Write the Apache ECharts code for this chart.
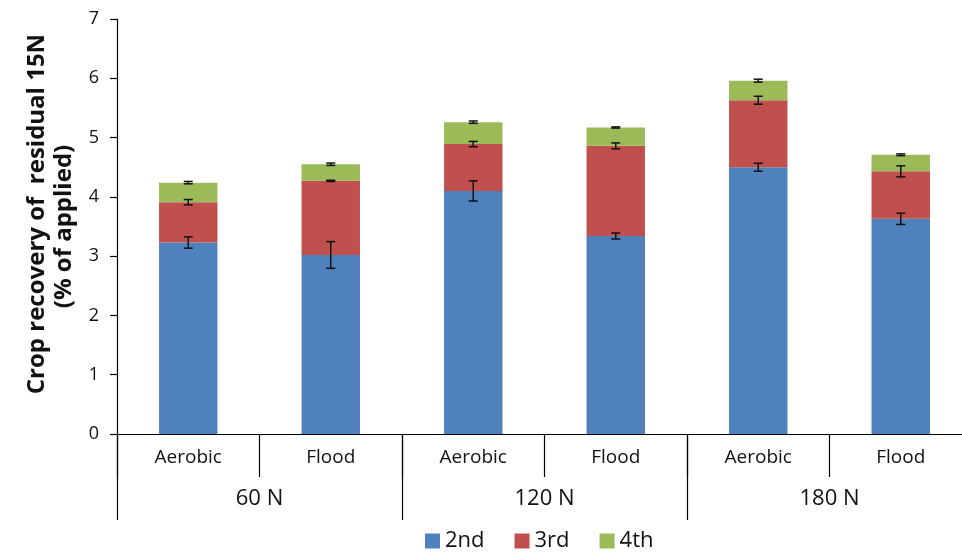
<!DOCTYPE html>
<html>
<head>
<meta charset="utf-8">
<script src="https://cdn.jsdelivr.net/npm/echarts@6/dist/echarts.min.js"></script>
<style>
  html, body { margin: 0; padding: 0; background: #fff; }
  #chart { width: 962px; height: 553px; }
</style>
</head>
<body>
<div id="chart"></div>
<script>
// Crop recovery of residual 15N by N rate and water regime
const systems = ['Aerobic', 'Flood', 'Aerobic', 'Flood', 'Aerobic', 'Flood'];
const nRates = ['60 N', '120 N', '180 N'];
const seasonNames = ['2nd', '3rd', '4th'];

const crop2nd = [3.23, 3.02, 4.10, 3.34, 4.50, 3.63];
const crop3rd = [0.68, 1.25, 0.79, 1.52, 1.13, 0.80];
const crop4th = [0.33, 0.28, 0.37, 0.31, 0.33, 0.28];

const err2nd = [0.095, 0.225, 0.17, 0.05, 0.067, 0.095];
const err3rd = [0.045, 0.01, 0.045, 0.05, 0.067, 0.093];
const err4th = [0.02, 0.02, 0.02, 0.01, 0.025, 0.015];

const colors = ['#4F81BD', '#C0504D', '#9BBB59'];
const FONT = 'Open Sans';

const layers = [crop2nd, crop3rd, crop4th];
const errs = [err2nd, err3rd, err4th];

// error bars sit on the top of each stacked segment
const errData = [];
systems.forEach((_, i) => {
  let cum = 0;
  layers.forEach((layer, k) => {
    cum += layer[i];
    errData.push([i, +cum.toFixed(3), errs[k][i]]);
  });
});

const barSeries = layers.map((layer, k) => ({
  name: seasonNames[k],
  type: 'bar',
  stack: 'total',
  barWidth: '41%',
  data: layer,
  itemStyle: { color: colors[k] },
  emphasis: { disabled: true }
}));

const chart = echarts.init(document.getElementById('chart'), null, { renderer: 'canvas' });

chart.setOption({
  animation: false,
  backgroundColor: '#ffffff',
  // the category band runs a little past the right edge of the canvas
  grid: { left: 117, width: 855, top: 19, height: 415, containLabel: false, outerBoundsMode: 'none' },
  legend: {
    data: seasonNames,
    top: 525,
    left: 420,
    itemWidth: 15,
    itemHeight: 15,
    itemGap: 30,
    icon: 'rect',
    textStyle: { fontFamily: FONT, fontSize: 22, color: '#111' }
  },
  xAxis: [
    {
      type: 'category',
      data: systems,
      position: 'bottom',
      axisLine: { lineStyle: { color: '#000', width: 1.2 } },
      axisTick: { show: true, interval: 0, length: 43, lineStyle: { color: '#000', width: 1.2 } },
      axisLabel: { interval: 0, margin: 14, fontFamily: FONT, fontSize: 19, color: '#111' }
    },
    {
      type: 'category',
      data: nRates,
      position: 'bottom',
      axisLine: { show: false },
      axisTick: { show: true, interval: 0, length: 86, lineStyle: { color: '#000', width: 1.2 } },
      axisLabel: { interval: 0, margin: 54, fontFamily: FONT, fontSize: 22, color: '#111' }
    }
  ],
  yAxis: {
    type: 'value',
    min: 0,
    max: 7,
    interval: 1,
    name: '    Crop recovery of  residual 15N\n(% of applied)',
    nameLocation: 'middle',
    nameRotate: 90,
    nameGap: 34,
    nameTextStyle: { fontFamily: FONT, fontSize: 24, fontWeight: 'bold', color: '#111', lineHeight: 27, align: 'center' },
    axisLine: { show: true, lineStyle: { color: '#000', width: 1.2 } },
    axisTick: { show: true, length: 7, lineStyle: { color: '#000', width: 1.2 } },
    axisLabel: { margin: 18, fontFamily: FONT, fontSize: 18, color: '#111' },
    splitLine: { show: false }
  },
  series: [
    ...barSeries,
    {
      type: 'custom',
      name: 'error',
      xAxisIndex: 0,
      data: errData,
      encode: { x: 0, y: 1 },
      z: 10,
      silent: true,
      renderItem: function (params, api) {
        const x = api.value(0);
        const y = api.value(1);
        const e = api.value(2);
        const hi = api.coord([x, y + e]);
        const lo = api.coord([x, y - e]);
        const cap = 4.5;
        const style = { stroke: '#111', lineWidth: 1.5 };
        return {
          type: 'group',
          children: [
            { type: 'line', shape: { x1: hi[0], y1: hi[1], x2: lo[0], y2: lo[1] }, style },
            { type: 'line', shape: { x1: hi[0] - cap, y1: hi[1], x2: hi[0] + cap, y2: hi[1] }, style },
            { type: 'line', shape: { x1: lo[0] - cap, y1: lo[1], x2: lo[0] + cap, y2: lo[1] }, style }
          ]
        };
      }
    }
  ]
});
</script>
</body>
</html>
